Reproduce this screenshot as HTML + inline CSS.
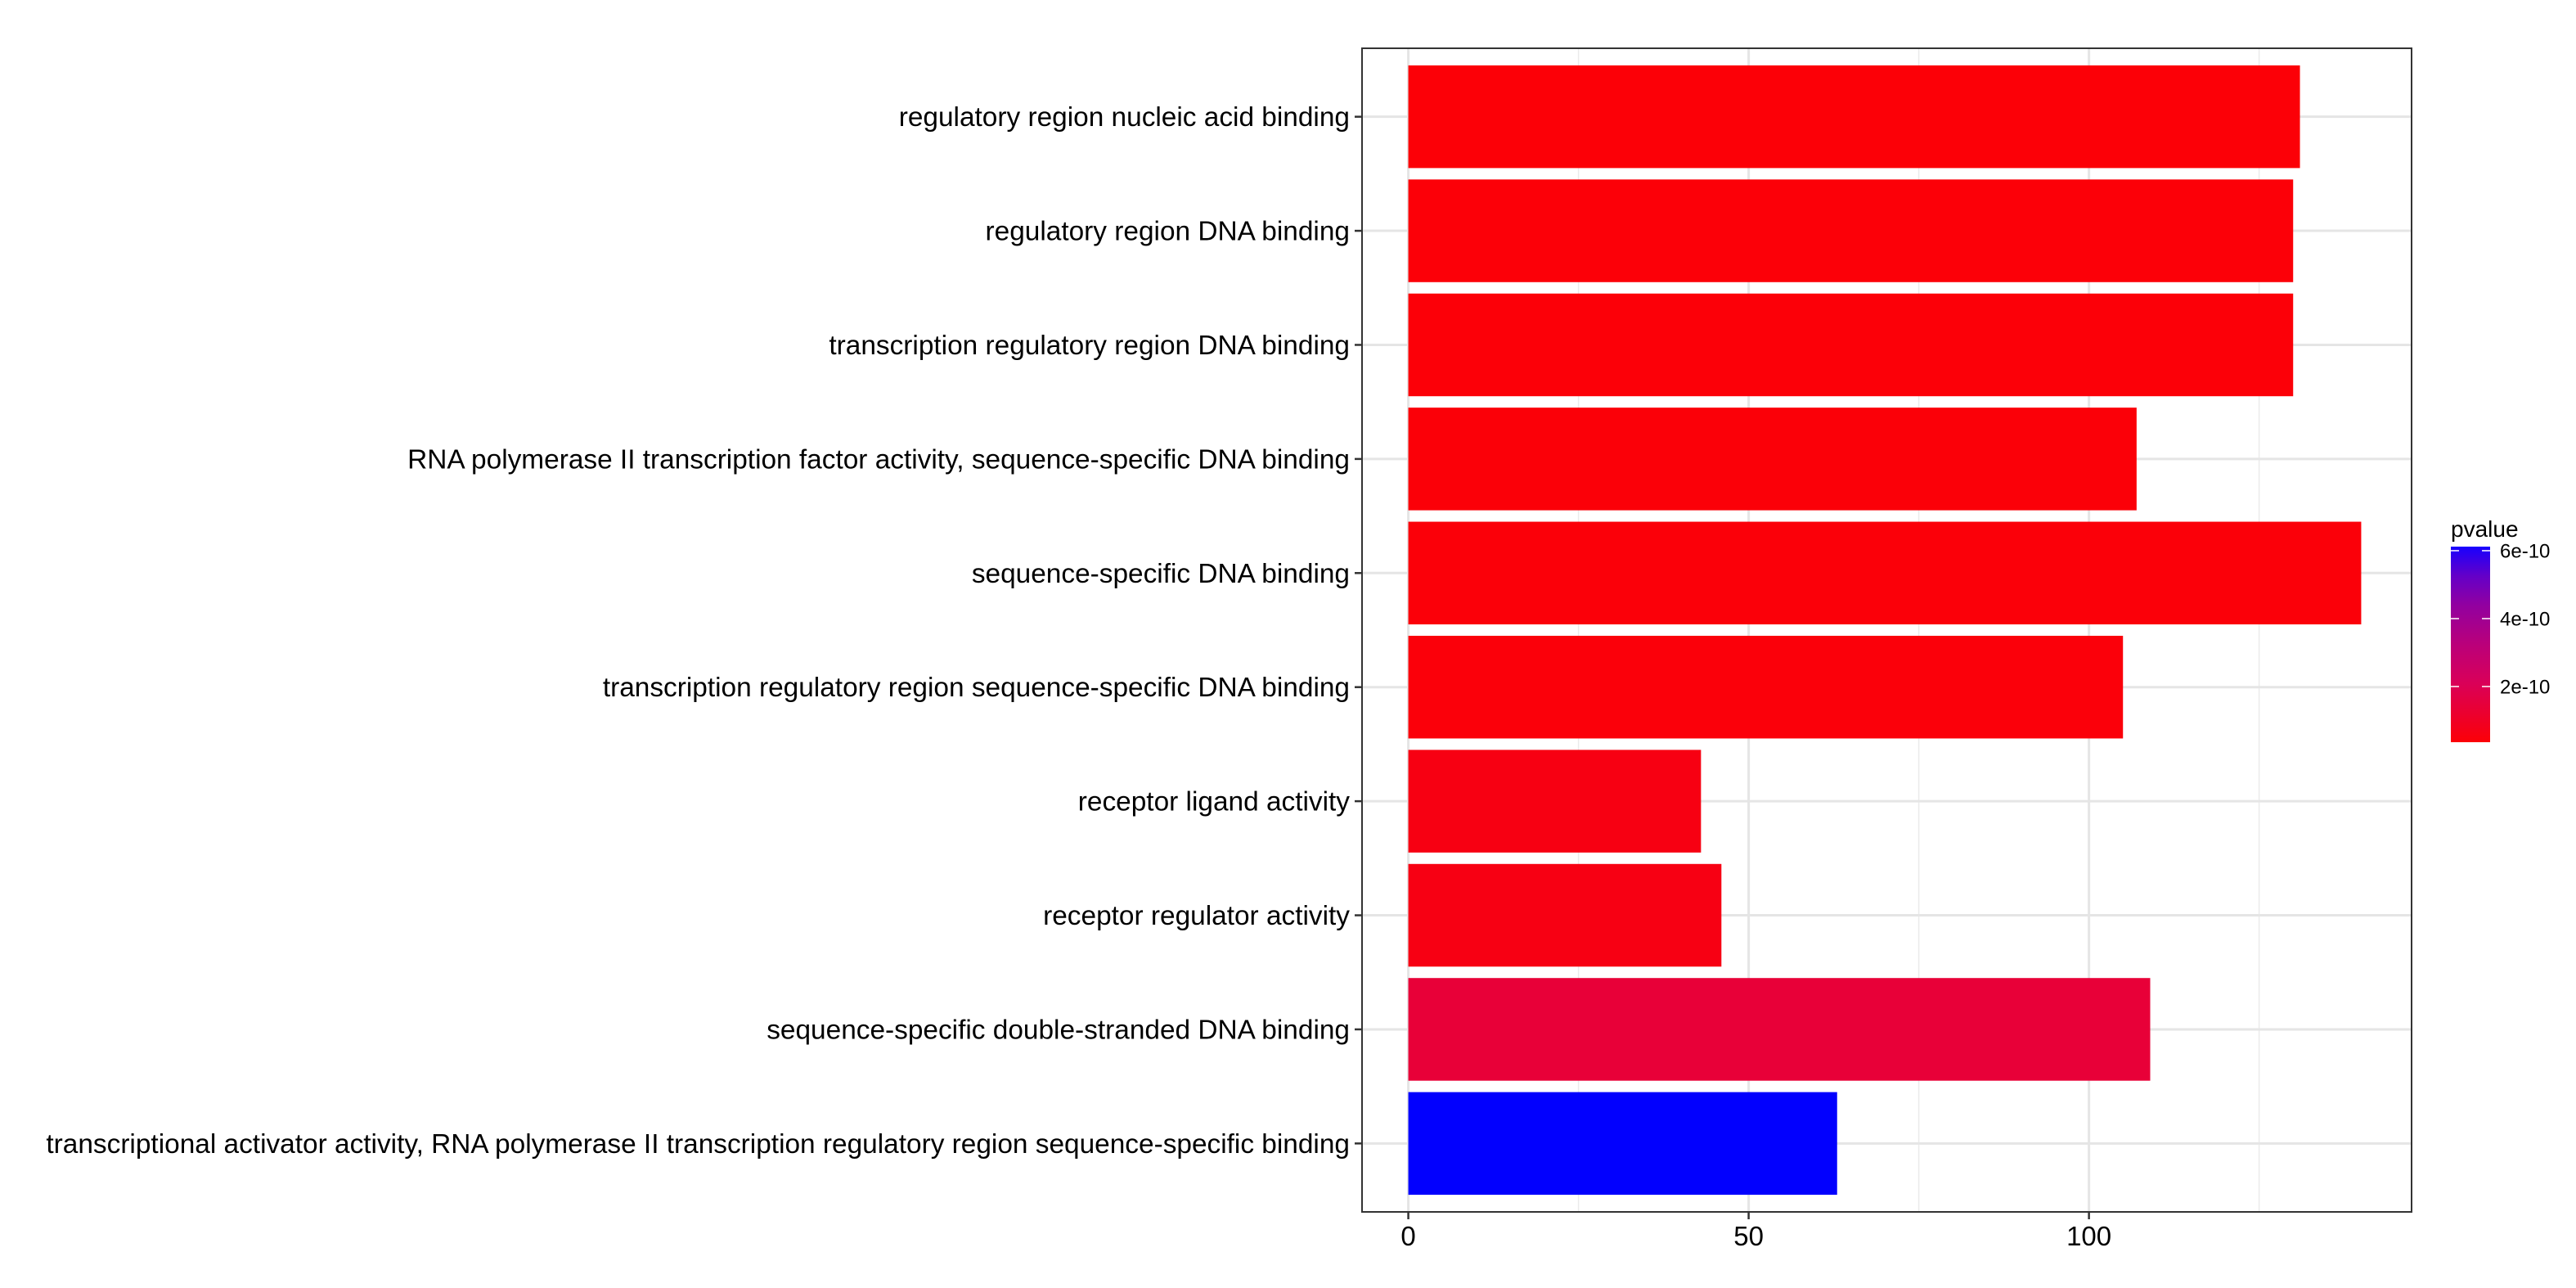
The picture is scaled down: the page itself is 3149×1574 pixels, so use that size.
<!DOCTYPE html>
<html><head><meta charset="utf-8"><style>
html,body{margin:0;padding:0;background:#fff;}
svg{display:block;font-family:"Liberation Sans",Arial,sans-serif;}
</style></head><body>
<svg id="chart" width="3149" height="1574" viewBox="0 0 3149 1574" xmlns="http://www.w3.org/2000/svg">
<defs>
<linearGradient id="pgrad" x1="0" y1="1" x2="0" y2="0">
<stop offset="0" stop-color="#FC0007"/>
<stop offset="0.3" stop-color="#DA0058"/>
<stop offset="0.5" stop-color="#BA007A"/>
<stop offset="0.7" stop-color="#9200A0"/>
<stop offset="0.85" stop-color="#6400C8"/>
<stop offset="1" stop-color="#1800FF"/>
</linearGradient>
</defs>
<rect x="0" y="0" width="3149" height="1574" fill="#fff"/>
<g id="grid"></g>
<g id="bars"></g>
<rect x="1665" y="59" width="1283" height="1422" fill="none" stroke="#333" stroke-width="2"/>
<g id="yaxis"></g>
<g id="xaxis"></g>
<g>
<text x="2996" y="656" font-size="28" fill="#000">pvalue</text>
<rect x="2996" y="668" width="48" height="239" fill="url(#pgrad)"/>
<g id="legend-ticks"></g>
</g>
</svg>
<script>
const categories = [
"regulatory region nucleic acid binding",
"regulatory region DNA binding",
"transcription regulatory region DNA binding",
"RNA polymerase II transcription factor activity, sequence-specific DNA binding",
"sequence-specific DNA binding",
"transcription regulatory region sequence-specific DNA binding",
"receptor ligand activity",
"receptor regulator activity",
"sequence-specific double-stranded DNA binding",
"transcriptional activator activity, RNA polymerase II transcription regulatory region sequence-specific binding"
];
const counts = [131, 130, 130, 107, 140, 105, 43, 46, 109, 63];
const pvalues = [3.6e-11, 3.8e-11, 3.8e-11, 3.9e-11, 4.0e-11, 4.2e-11, 6.0e-11, 6.2e-11, 1.4e-10, 6.1e-10];
const xTicks = [0, 50, 100];
const xMinor = [25, 75, 125];
const legendTicks = [2e-10, 4e-10, 6e-10];
const legendLabels = ["2e-10", "4e-10", "6e-10"];

const NS = "http://www.w3.org/2000/svg";
const P = {l:1665, r:2948, t:59, b:1481};
const xMin = -6.8, xMax = 147.4;
function xs(v){ return P.l + (v - xMin) / (xMax - xMin) * (P.r - P.l); }
const step = (P.b - P.t) / (categories.length + 0.2);
function ys(i){ return P.t + 0.6*step + i*step; }
const pMin = 3.6e-11, pMax = 6.12e-10;
function ly(p){ return 907 - (p - pMin) / (pMax - pMin) * (907 - 668); }
function pColor(p){
  const f = Math.max(0, Math.min(1, (p - pMin)/(pMax - pMin)));
  const stops = [[0,[252,0,7]],[0.3,[218,0,88]],[0.5,[186,0,122]],[0.7,[146,0,160]],[0.85,[100,0,200]],[1,[0,0,255]]];
  for (let k=1;k<stops.length;k++){
    if (f <= stops[k][0]){
      const a=stops[k-1], b=stops[k], t=(f-a[0])/(b[0]-a[0]);
      const c=a[1].map((v,j)=>Math.round(v+(b[1][j]-v)*t));
      return "rgb("+c.join(",")+")";
    }
  }
  return "rgb(0,0,255)";
}
function mk(tag, attrs, parent){
  const el = document.createElementNS(NS, tag);
  for (const k in attrs) el.setAttribute(k, attrs[k]);
  parent.appendChild(el);
  return el;
}
const grid = document.getElementById("grid");
xMinor.forEach(v=>{
  const l = mk("line",{x1:xs(v),x2:xs(v),y1:P.t,y2:P.b,stroke:"#EBEBEB","stroke-width":1.5},grid);
  
  
});
xTicks.forEach(v=>{
  const l = mk("line",{x1:xs(v),x2:xs(v),y1:P.t,y2:P.b,stroke:"#E5E5E5","stroke-width":3},grid);
  
  
});
categories.forEach((c,i)=>{
  const l = mk("line",{x1:P.l,x2:P.r,y1:ys(i),y2:ys(i),stroke:"#E5E5E5","stroke-width":3},grid);
  
  
});
const bars = document.getElementById("bars");
const yaxis = document.getElementById("yaxis");
categories.forEach((c,i)=>{
  const h = step*0.9;
  const r = mk("rect",{x:xs(0),y:ys(i)-h/2,width:xs(counts[i])-xs(0),height:h,fill:pColor(pvalues[i])},bars);
  
  
  const t = mk("line",{x1:P.l-9,x2:P.l,y1:ys(i),y2:ys(i),stroke:"#333","stroke-width":2.5},yaxis);
  
  
  const tx = mk("text",{x:P.l-15,y:ys(i)+11.5,"text-anchor":"end","font-size":33.4,fill:"#000"},yaxis);
  tx.textContent = c;
  
  
});
const xaxis = document.getElementById("xaxis");
xTicks.forEach(v=>{
  const t = mk("line",{x1:xs(v),x2:xs(v),y1:P.b,y2:P.b+9,stroke:"#333","stroke-width":2.5},xaxis);
  
  
  const tx = mk("text",{x:xs(v),y:P.b+41,"text-anchor":"middle","font-size":33,fill:"#000"},xaxis);
  tx.textContent = String(v);
  
  
});
const lt = document.getElementById("legend-ticks");
legendTicks.forEach((v,i)=>{
  const y = ly(v);
  const a = mk("line",{x1:2996,x2:3006,y1:y,y2:y,stroke:"#fff","stroke-width":1.5},lt);
  
  
  const b = mk("line",{x1:3034,x2:3044,y1:y,y2:y,stroke:"#fff","stroke-width":1.5},lt);
  
  
  const tx = mk("text",{x:3056,y:y+8.5,"font-size":24,fill:"#000"},lt);
  tx.textContent = legendLabels[i];
  
  
});
</script>
</body></html>
